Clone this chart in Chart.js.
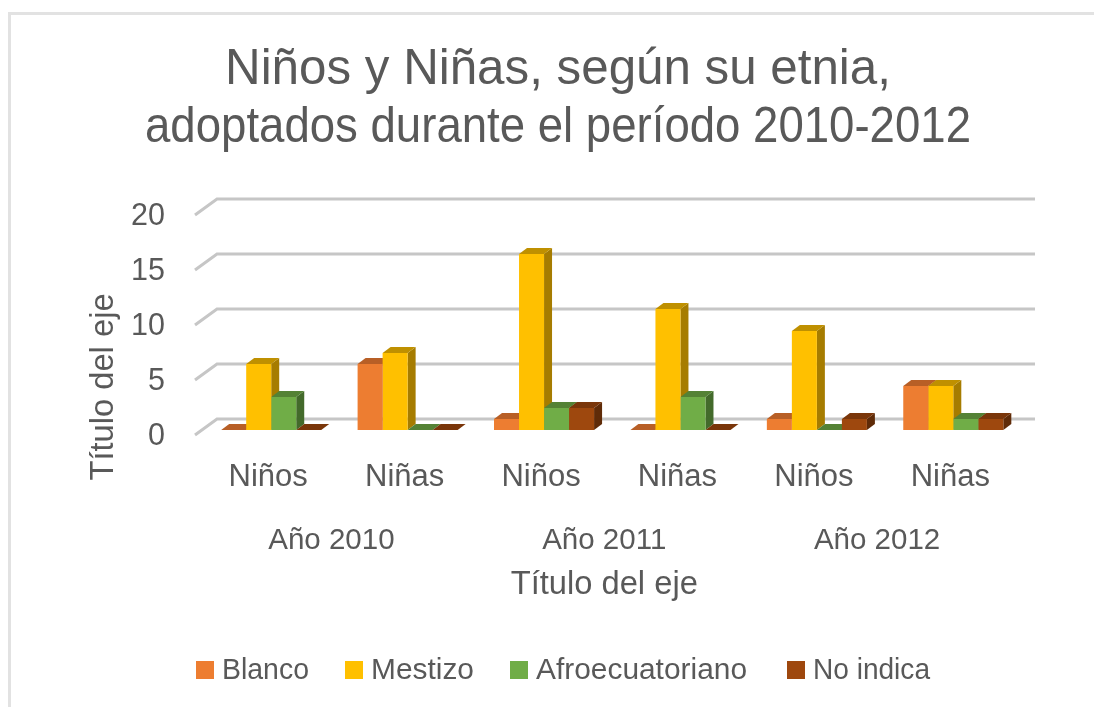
<!DOCTYPE html>
<html>
<head>
<meta charset="utf-8">
<script src="https://cdn.jsdelivr.net/npm/chart.js@4"></script>
<style>
html, body { margin: 0; padding: 0; background: #fff; overflow: hidden; }
#wrap { position: relative; width: 1094px; height: 707px; overflow: hidden; }
#frame { position: absolute; left: 8px; top: 12px; right: -6px; bottom: -6px; border: 3px solid #e2e2e2; }
canvas { position: relative; display: block; }
</style>
</head>
<body>
<div id="wrap">
<div id="frame"></div>
<canvas id="myChart" width="1094" height="707"></canvas>
</div>
<script>
var categories = ["Niños", "Niñas", "Niños", "Niñas", "Niños", "Niñas"];
var years = ["Año 2010", "Año 2011", "Año 2012"];
var blanco = [0, 6, 1, 0, 1, 4];
var mestizo = [6, 7, 16, 11, 9, 4];
var afro = [3, 0, 2, 3, 0, 1];
var noIndica = [0, 0, 2, 0, 1, 1];
var yTicks = [0, 5, 10, 15, 20];

var FONT = '"Liberation Sans", Arial, sans-serif';
var TEXT = '#595959';

// depth of the fake 3D: front of bar to back of bar
var DX = 8, DY = -6;

// legend slots: box left edge and text width
var legendX = [196, 345, 510, 787];
var legendW = [87, 103, 211, 117];

function poly(ctx, pts, color) {
    ctx.fillStyle = color;
    ctx.beginPath();
    ctx.moveTo(pts[0], pts[1]);
    for (var i = 2; i < pts.length; i += 2) ctx.lineTo(pts[i], pts[i + 1]);
    ctx.closePath();
    ctx.fill();
}

var fake3d = {
    id: 'fake3d',
    // chart.js has no offset for titles, so move the boxes once layout is done
    afterLayout: function (chart) {
        // title box width is also the maxWidth, it squeezes the long second line
        chart.titleBlock.left = 145;
        chart.titleBlock.right = 971;
        var x1 = chart.scales.x1;
        x1.left -= 8;
        x1.right -= 8;
        x1.configure();
        chart.scales.y.top += 67;
        chart.scales.y.bottom += 67;
    },
    beforeDatasetsDraw: function (chart) {
        var ctx = chart.ctx, area = chart.chartArea, y = chart.scales.y;
        ctx.save();
        // walls: each gridline runs along the floor edge and then the back wall
        y.ticks.forEach(function (t) {
            var p = y.getPixelForValue(t.value);
            ctx.strokeStyle = '#c6c6c6';
            ctx.lineWidth = 3;
            ctx.beginPath();
            ctx.moveTo(area.left - 8, p + 5);
            ctx.lineTo(area.left + 14, p - 11);
            ctx.lineTo(area.right + 13.5, p - 11);
            ctx.stroke();
        });
        // sides and tops, left to right; the fronts are the real bars drawn after this
        categories.forEach(function (c, j) {
            chart.data.datasets.forEach(function (ds, i) {
                var b = chart.getDatasetMeta(i).data[j];
                var l = b.x - b.width / 2, r = b.x + b.width / 2;
                poly(ctx, [r, b.y, r + DX, b.y + DY, r + DX, b.base + DY, r, b.base], ds.sideColor);
                poly(ctx, [l, b.y, l + DX, b.y + DY, r + DX, b.y + DY, r, b.y], ds.topColor);
            });
        });
        ctx.restore();
    },
    afterDraw: function (chart) {
        var ctx = chart.ctx;
        ctx.save();
        ctx.font = '30px ' + FONT;
        ctx.textBaseline = 'middle';
        chart.data.datasets.forEach(function (ds, i) {
            ctx.fillStyle = ds.backgroundColor;
            ctx.fillRect(legendX[i], 661, 18, 18);
            ctx.fillStyle = TEXT;
            ctx.fillText(ds.label, legendX[i] + 26, 671, legendW[i]);
        });
        ctx.restore();
    }
};

var ctx = document.getElementById('myChart').getContext('2d');
var chart = new Chart(ctx, {
    type: 'bar',
    plugins: [fake3d],
    data: {
        labels: categories,
        datasets: [
            { label: "Blanco", backgroundColor: '#ed7d31', topColor: '#b85f26', sideColor: '#a0541f', data: blanco },
            { label: "Mestizo", backgroundColor: '#ffc000', topColor: '#bf9000', sideColor: '#a67c00', data: mestizo },
            { label: "Afroecuatoriano", backgroundColor: '#70ad47', topColor: '#548235', sideColor: '#436a2b', data: afro },
            { label: "No indica", backgroundColor: '#9e480e', topColor: '#7a360a', sideColor: '#5f2b08', data: noIndica }
        ]
    },
    options: {
        responsive: false,
        animation: false,
        clip: false,
        layout: { padding: { left: 0, right: 72.5, top: 0, bottom: 0 } },
        datasets: { bar: { barPercentage: 1, categoryPercentage: 0.7335 } },
        plugins: {
            legend: { display: false },
            tooltip: { enabled: false },
            title: {
                display: true,
                text: ["Niños y Niñas, según su etnia,", "adoptados durante el período 2010-2012"],
                color: TEXT,
                font: { family: FONT, size: 49.3, weight: 'normal', lineHeight: '58px' },
                padding: { top: 41, bottom: 53 }
            }
        },
        scales: {
            x: {
                grid: { display: false, drawTicks: false },
                border: { display: false },
                ticks: { color: TEXT, font: { family: FONT, size: 31 }, padding: 29, labelOffset: -3, maxRotation: 0, autoSkip: false },
                afterFit: function (s) { s.height = 65; }
            },
            x1: {
                type: 'category',
                labels: years,
                position: 'bottom',
                grid: { display: false, drawTicks: false },
                border: { display: false },
                ticks: { color: TEXT, font: { family: FONT, size: 29.5 }, padding: 28, maxRotation: 0, autoSkip: false },
                title: { display: true, text: "Título del eje", color: TEXT, font: { family: FONT, size: 32.7 }, padding: { top: 0, bottom: 102 } },
                afterFit: function (s) { s.height = 212; }
            },
            y: {
                min: 0,
                max: 20,
                grid: { display: false, drawTicks: false },
                border: { display: false },
                afterBuildTicks: function (s) { s.ticks = yTicks.map(function (v) { return { value: v }; }); },
                ticks: { color: TEXT, font: { family: FONT, size: 30.5 }, padding: 38, labelOffset: 6.5 },
                title: { display: true, text: "Título del eje", color: TEXT, font: { family: FONT, size: 32.7 }, padding: { top: 84, bottom: 0 } },
                afterFit: function (s) { s.width = 203; }
            }
        }
    }
});
</script>
</body>
</html>
